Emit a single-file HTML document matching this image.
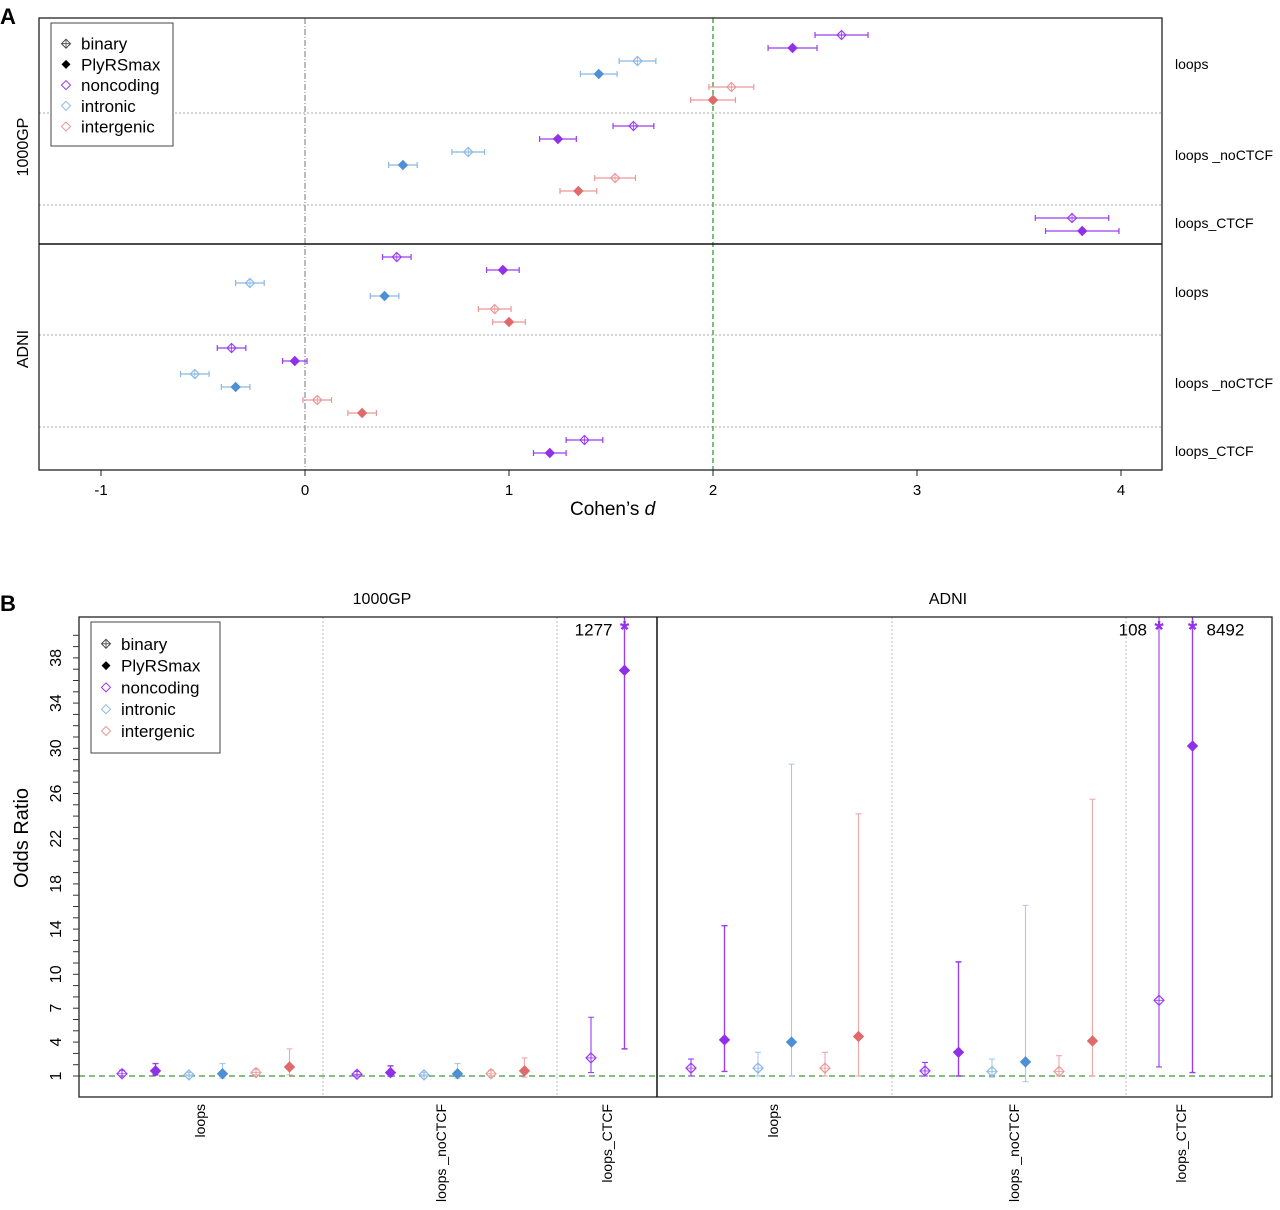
<!DOCTYPE html>
<html><head><meta charset="utf-8"><style>
body{margin:0;background:#fff}
svg text{font-family:"Liberation Sans",sans-serif}
</style></head><body>
<svg id="fig" width="1280" height="1205" viewBox="0 0 1280 1205" xmlns="http://www.w3.org/2000/svg"></svg>
<script>
// ===== Panel A data (Cohen's d) =====
const aSeries = ["noncoding","noncoding","intronic","intronic","intergenic","intergenic"];
const aKinds = ["binary","plyrs","binary","plyrs","binary","plyrs"];
const a1000Loops = [2.63,2.39,1.63,1.44,2.09,2.00];
const a1000LoopsErr = [0.13,0.12,0.09,0.09,0.11,0.11];
const a1000NoCTCF = [1.61,1.24,0.80,0.48,1.52,1.34];
const a1000NoCTCFErr = [0.10,0.09,0.08,0.07,0.10,0.09];
const a1000CTCF = [3.76,3.81];
const a1000CTCFErr = [0.18,0.18];
const aAdniLoops = [0.45,0.97,-0.27,0.39,0.93,1.00];
const aAdniLoopsErr = [0.07,0.08,0.07,0.07,0.08,0.08];
const aAdniNoCTCF = [-0.36,-0.05,-0.54,-0.34,0.06,0.28];
const aAdniNoCTCFErr = [0.07,0.06,0.07,0.07,0.07,0.07];
const aAdniCTCF = [1.37,1.20];
const aAdniCTCFErr = [0.09,0.08];
const aTicks = [-1,0,1,2,3,4];
// ===== Panel B data (odds ratio) =====
const bTickLabels = [1,4,7,10,14,18,22,26,30,34,38];
const b1000Loops = [1.2,1.45,1.1,1.2,1.3,1.8];
const b1000LoopsLo = [1.0,1.1,1.0,0.8,1.1,1.1];
const b1000LoopsHi = [1.5,2.1,1.3,2.1,1.6,3.4];
const b1000NoCTCF = [1.15,1.3,1.1,1.2,1.2,1.45];
const b1000NoCTCFLo = [1.0,1.0,1.0,0.8,1.0,0.9];
const b1000NoCTCFHi = [1.4,1.9,1.3,2.1,1.5,2.6];
const b1000CTCF = [2.6,36.9];
const b1000CTCFLo = [1.3,3.4];
const b1000CTCFHi = [6.2,1277];
const bAdniLoops = [1.7,4.2,1.7,4.0,1.7,4.5];
const bAdniLoopsLo = [1.0,1.4,1.0,1.0,1.0,1.0];
const bAdniLoopsHi = [2.5,14.3,3.1,28.6,3.1,24.2];
const bAdniNoCTCF = [1.45,3.1,1.4,2.25,1.4,4.1];
const bAdniNoCTCFLo = [1.0,1.0,0.9,0.5,1.0,1.0];
const bAdniNoCTCFHi = [2.2,11.1,2.5,16.1,2.8,25.5];
const bAdniCTCF = [7.7,30.2];
const bAdniCTCFLo = [1.8,1.3];
const bAdniCTCFHi = [108,8492];

const NS="http://www.w3.org/2000/svg";
const svg=document.getElementById('fig');
const colOpen={noncoding:"#9b3df0",intronic:"#8cb8e4",intergenic:"#eb9898"};
const colFill={noncoding:"#9030e8",intronic:"#4f8fd6",intergenic:"#e06a6a"};
const colBar={noncoding:"#9b3df0",intronic:"#a9c9ec",intergenic:"#f0a8a8"};
function mk(tag,attrs,parent){const e=document.createElementNS(NS,tag);for(const k in attrs)e.setAttribute(k,attrs[k]);(parent||svg).appendChild(e);return e;}
function txt(x,y,s,size,attrs,parent){const t=mk('text',Object.assign({x:x,y:y,'font-size':size},attrs||{}),parent);t.textContent=s;return t;}
function marker(x,y,series,kind,r,g){
  if(kind==="plyrs"){const p=mk('polygon',{points:`${x},${y-r} ${x+r},${y} ${x},${y+r} ${x-r},${y}`,fill:colFill[series],stroke:colFill[series]},g);
    }
  else{const p=mk('polygon',{points:`${x},${y-r} ${x+r},${y} ${x},${y+r} ${x-r},${y}`,fill:'none',stroke:colOpen[series],'stroke-width':1.2},g);
    
    mk('path',{d:`M${x-r} ${y}H${x+r}M${x} ${y-r}V${y+r}`,stroke:colOpen[series],'stroke-width':0.8},g);}
}
// ===== PANEL A =====
txt(0,24,"A",22,{'font-weight':'bold'});
const ax=v=>305+v*204;
const gA=mk('g',{});
[113,205,335,427].forEach(y=>{const l=mk('line',{x1:39,x2:1162,y1:y,y2:y,stroke:'#aaa','stroke-dasharray':'2,2'},gA);});
mk('line',{x1:ax(0),x2:ax(0),y1:18,y2:470,stroke:'#777','stroke-dasharray':'6,2,1,2'},gA);
mk('line',{x1:ax(2),x2:ax(2),y1:18,y2:470,stroke:'#3a9a3a','stroke-dasharray':'5,3','stroke-width':1.3},gA);
function rowA(vals,errs,y0){vals.forEach((v,i)=>{const y=y0+i*13;const c=colOpen[aSeries[i]];
  const g=mk('g',{},gA);
  mk('path',{d:`M${ax(v-errs[i])} ${y}H${ax(v+errs[i])}M${ax(v-errs[i])} ${y-3}V${y+3}M${ax(v+errs[i])} ${y-3}V${y+3}`,stroke:c,'stroke-width':1.2},g);
  marker(ax(v),y,aSeries[i],aKinds[i],4.5,g);});}
rowA(a1000Loops,a1000LoopsErr,35);rowA(a1000NoCTCF,a1000NoCTCFErr,126);rowA(a1000CTCF,a1000CTCFErr,218);
rowA(aAdniLoops,aAdniLoopsErr,257);rowA(aAdniNoCTCF,aAdniNoCTCFErr,348);rowA(aAdniCTCF,aAdniCTCFErr,440);
mk('rect',{x:39,y:18,width:1123,height:452,fill:'none',stroke:'#222','stroke-width':1.3},gA);
mk('line',{x1:39,x2:1162,y1:244,y2:244,stroke:'#111','stroke-width':1.5},gA);
aTicks.forEach(t=>{mk('line',{x1:ax(t),x2:ax(t),y1:470,y2:476,stroke:'#222'},gA);const l=txt(ax(t),495,String(t),15,{'text-anchor':'middle'},gA);});
const xt=txt(570,515,"Cohen\u2019s ",19,{},gA);
const ts=mk('tspan',{'font-style':'italic'},xt);ts.textContent='d';
[["1000GP",147],["ADNI",349]].forEach(([s,y])=>{const t=txt(28,y,s,16,{'text-anchor':'middle',transform:`rotate(-90 28 ${y})`},gA);});
[["loops",69],["loops _noCTCF",160],["loops_CTCF",228],["loops",297],["loops _noCTCF",388],["loops_CTCF",456]].forEach(([s,y])=>{const t=txt(1175,y,s,14,{},gA);});
function legend(x,y,w,h,fs,dy,g){const lg=mk('g',{},g);
  mk('rect',{x:x,y:y,width:w,height:h,fill:'#fff',stroke:'#444'},lg);
  const items=[["binary","#444","binary"],["PlyRSmax","#000","plyrs"],["noncoding",colOpen.noncoding,"open"],["intronic",colOpen.intronic,"open"],["intergenic",colOpen.intergenic,"open"]];
  items.forEach((it,i)=>{const cy=y+dy*1.0+i*dy;const cx=x+15;const r=4.5;
    const e=mk('g',{},lg);
    if(it[2]==="plyrs")mk('polygon',{points:`${cx},${cy-r} ${cx+r},${cy} ${cx},${cy+r} ${cx-r},${cy}`,fill:'#000'},e);
    else mk('polygon',{points:`${cx},${cy-r} ${cx+r},${cy} ${cx},${cy+r} ${cx-r},${cy}`,fill:'none',stroke:it[1]},e);
    if(it[2]==="binary")mk('path',{d:`M${cx-r} ${cy}H${cx+r}M${cx} ${cy-r}V${cy+r}`,stroke:'#444','stroke-width':0.8},e);
    txt(x+30,cy+fs*0.35,it[0],fs,{},e);});}
legend(51,23,122,123,17,20.7,gA);
// ===== PANEL B =====
txt(0,611,"B",22,{'font-weight':'bold'});
const gB=mk('g',{});
const by=v=>1076-(v-1)*11.3;
const TOPV=(1076-617)/11.3+1;
const BR=1272;
const bx0=[122,357,591,691,925,1159];
[323,557,892,1126].forEach(x=>{const l=mk('line',{x1:x,x2:x,y1:617,y2:1097,stroke:'#bbb','stroke-dasharray':'2,2'},gB);});
mk('line',{x1:79,x2:BR,y1:by(1),y2:by(1),stroke:'#3a9a3a','stroke-dasharray':'6,4','stroke-width':1.3},gB);
function groupB(vals,lo,hi,gi){vals.forEach((v,i)=>{const x=bx0[gi]+i*33.5;
  const g=mk('g',{},gB);
  const yl=by(lo[i]);const off=hi[i]>TOPV;const yh=off?617:by(hi[i]);
  mk('path',{d:`M${x} ${yl}V${yh}M${x-3} ${yl}H${x+3}`+(off?'':`M${x-3} ${yh}H${x+3}`),stroke:colBar[aSeries[i]],'stroke-width':aSeries[i]==="noncoding"&&aKinds[i]==="plyrs"?1.4:1.1},g);
  marker(x,by(v),aSeries[i],aKinds[i],5,g);
  if(off){txt(x,by(40.5)+8,"*",24,{'text-anchor':'middle',fill:colFill[aSeries[i]],'font-weight':'bold'},g);
    const right=(gi===5&&i===1);const t=txt(right?x+14:x-12,by(40.5)+6,String(hi[i]),17,{'text-anchor':right?'start':'end'},g);
    }});}
groupB(b1000Loops,b1000LoopsLo,b1000LoopsHi,0);groupB(b1000NoCTCF,b1000NoCTCFLo,b1000NoCTCFHi,1);groupB(b1000CTCF,b1000CTCFLo,b1000CTCFHi,2);
groupB(bAdniLoops,bAdniLoopsLo,bAdniLoopsHi,3);groupB(bAdniNoCTCF,bAdniNoCTCFLo,bAdniNoCTCFHi,4);groupB(bAdniCTCF,bAdniCTCFLo,bAdniCTCFHi,5);
mk('rect',{x:79,y:617,width:BR-79,height:480,fill:'none',stroke:'#222','stroke-width':1.3},gB);
mk('line',{x1:657,x2:657,y1:617,y2:1097,stroke:'#111','stroke-width':1.5},gB);
for(let v=1;v<=40;v++){mk('line',{x1:73,x2:79,y1:by(v),y2:by(v),stroke:'#333'},gB);}
bTickLabels.forEach(t=>{const l=txt(61,by(t),String(t),16,{'text-anchor':'middle',transform:`rotate(-90 61 ${by(t)})`},gB);});
const yt=txt(28,838,"Odds Ratio",20,{'text-anchor':'middle',transform:'rotate(-90 28 838)'},gB);
[["1000GP",382],["ADNI",948]].forEach(([s,x])=>{const t=txt(x,604,s,16,{'text-anchor':'middle'},gB);});
[["loops",205],["loops _noCTCF",446],["loops_CTCF",612],["loops",778],["loops _noCTCF",1019],["loops_CTCF",1186]].forEach(([s,x])=>{const t=txt(x,1104,s,14,{'text-anchor':'end',transform:`rotate(-90 ${x} 1104)`},gB);});
legend(91,622,129,131,17,21.8,gB);
</script>
</body></html>
